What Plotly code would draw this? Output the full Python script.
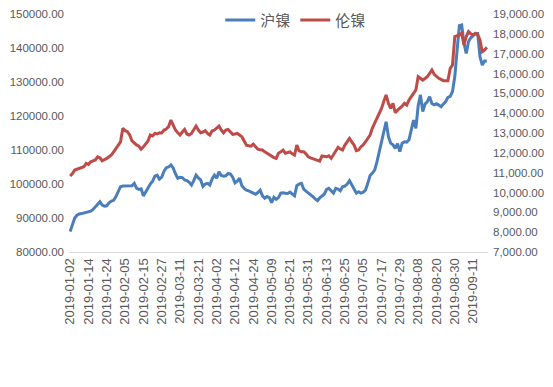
import pandas as pd
import plotly.graph_objects as go

start_date = "2019-01-02"
end_date = "2019-09-20"
holidays = ["2019-05-01", "2019-05-02", "2019-05-03", "2019-06-07", "2019-09-13"]

shfe_nickel = [
    86000, 88000, 90000, 90800, 91200, 91300, 91500, 91600, 91700, 92000,
    92500, 93300, 94000, 94800, 93800, 93500, 93600, 94500, 95000, 95200,
    96300, 97700, 99200, 99400, 99400, 99400, 99400, 99500, 100200, 98800,
    98400, 98600, 96500, 97800, 98800, 100000, 100800, 102300, 102600, 101400,
    102000, 103800, 104800, 105000, 105600, 104700, 103000, 101700, 102000, 101900,
    101200, 101000, 100500, 99700, 101000, 102600, 101800, 101200, 99300, 100000,
    100200, 99700, 101500, 102600, 101700, 103600, 102500, 102300, 102400, 103100,
    102900, 102000, 100300, 100800, 101700, 99500, 98700, 98200, 98000, 97700,
    97200, 97000, 97500, 98200, 96500, 95800, 96300, 96000, 94500, 96100,
    95500, 96000, 97300, 97450, 97300, 97200, 97600, 97000, 96500, 99500,
    100000, 100200, 98500, 97900, 97400, 96900, 96300, 95600, 95100, 95900,
    96500, 97000, 98400, 98700, 98000, 97300, 98700, 98500, 98000, 99200,
    99400, 100000, 101000, 99800, 98200, 97300, 97700, 97300, 97600, 98200,
    100200, 102500, 103200, 104100, 106500, 109500, 112000, 114500, 118300, 114000,
    112000, 111500, 110500, 111900, 109500, 112000, 112400, 112300, 113000, 116000,
    118800, 116400, 123000, 126200, 121300, 123500, 124200, 125700, 123700, 123300,
    123600, 123200, 122700, 123500, 124200, 125500, 125800, 127200, 131600, 139400,
    146600, 146800, 141400, 138400, 141900, 143000, 143800, 144300, 144300, 137400,
    135000, 136200, 136200,
]

lme_nickel = [
    10830, 10950, 11130, 11180, 11200, 11250, 11300, 11470, 11420, 11550,
    11580, 11640, 11800, 11750, 11600, 11650, 11720, 11800, 11890, 12050,
    12230, 12400, 12550, 13240, 13120, 13070, 12900, 12600, 12480, 12400,
    12340, 12180, 12300, 12480, 12600, 12900, 12850, 12980, 12950, 13010,
    13000, 13150, 13200, 13320, 13650, 13400, 13150, 13010, 12900, 13050,
    13180, 12950, 12900, 12980, 13150, 13350, 13150, 13010, 13050, 13120,
    12980, 12900, 13100, 13150, 13250, 13350, 13150, 13010, 13150, 13180,
    13050, 12930, 12950, 12980, 12900, 12810, 12600, 12390, 12360, 12340,
    12440, 12300, 12180, 12150, 12140, 12050, 11980, 11900, 11800, 11760,
    11720, 11980, 12050, 12140, 11980, 12000, 12050, 11950, 11890, 12390,
    12100, 12060, 12060, 11950, 11800, 11750, 11700, 11650, 11600, 11580,
    11840, 11820, 11800, 11850, 11720, 11900, 12060, 12280, 12200, 12140,
    12390, 12550, 12730, 12550, 12390, 12110, 12140, 12310, 12400, 12560,
    12730, 12900, 13250, 13490, 13740, 13950, 14240, 14600, 14920, 14500,
    14240, 14500, 14020, 14150, 14240, 14350, 14500, 14410, 14660, 14830,
    15000, 15170, 15840, 15750, 15670, 15750, 15840, 16000, 16180, 15960,
    15840, 15760, 15700, 15640, 15640, 15640, 16260, 16430, 17860, 17900,
    17940, 18030, 17440, 17860, 18110, 18000, 17940, 18030, 17950, 17690,
    17100, 17180, 17320,
]

left_ticks = [80000, 90000, 100000, 110000, 120000, 130000, 140000, 150000]
right_ticks = [7000, 8000, 9000, 10000, 11000, 12000, 13000, 14000, 15000, 16000, 17000, 18000, 19000]

all_days = pd.bdate_range(start_date, end_date)
dates = [d.strftime("%Y-%m-%d") for d in all_days if d.strftime("%Y-%m-%d") not in holidays]
tick_dates = dates[::8]

BLUE = "#4A7EBB"
RED = "#BE4B48"
GREY = "#595959"
FONT = "Liberation Sans, Arial, Noto Sans CJK SC, sans-serif"

fig = go.Figure()
fig.add_trace(go.Scatter(x=dates, y=shfe_nickel, name="沪镍", mode="lines",
                         line=dict(color=BLUE, width=3), yaxis="y"))
fig.add_trace(go.Scatter(x=dates, y=lme_nickel, name="伦镍", mode="lines",
                         line=dict(color=RED, width=3), yaxis="y2"))

# the page body adds an 8px offset, so the figure is sized/margined to compensate
fig.update_layout(
    width=545, height=379,
    margin=dict(l=61, r=65, t=6, b=135, autoexpand=False),
    paper_bgcolor="white", plot_bgcolor="white",
    font=dict(family=FONT, color=GREY, size=11),
    showlegend=True,
    legend=dict(orientation="h", xref="container", yref="container",
                x=0.528, xanchor="center", y=0.968, yanchor="middle",
                font=dict(family="Noto Sans CJK SC, sans-serif", size=15, color=GREY),
                bgcolor="rgba(0,0,0,0)", itemwidth=30),
    xaxis=dict(type="category", tickmode="array", tickvals=tick_dates, ticktext=tick_dates,
               tickangle=-90, range=[-0.5, len(dates) - 0.5], automargin=False,
               showgrid=False, zeroline=False, showline=True, linecolor="#D9D9D9", linewidth=1,
               ticks="", tickfont=dict(size=13, color=GREY)),
    yaxis=dict(range=[80000, 150000], tickvals=left_ticks, tickformat=".2f", automargin=False,
               showgrid=False, zeroline=False, showline=False, ticks="",
               tickfont=dict(size=11.5, color=GREY), ticklabelstandoff=4),
    yaxis2=dict(range=[7000, 19000], tickvals=right_ticks, tickformat=",.2f", automargin=False,
                overlaying="y", side="right",
                showgrid=False, zeroline=False, showline=False, ticks="",
                tickfont=dict(size=11.5, color=GREY), ticklabelstandoff=4),
)

fig.write_html("out.html")
